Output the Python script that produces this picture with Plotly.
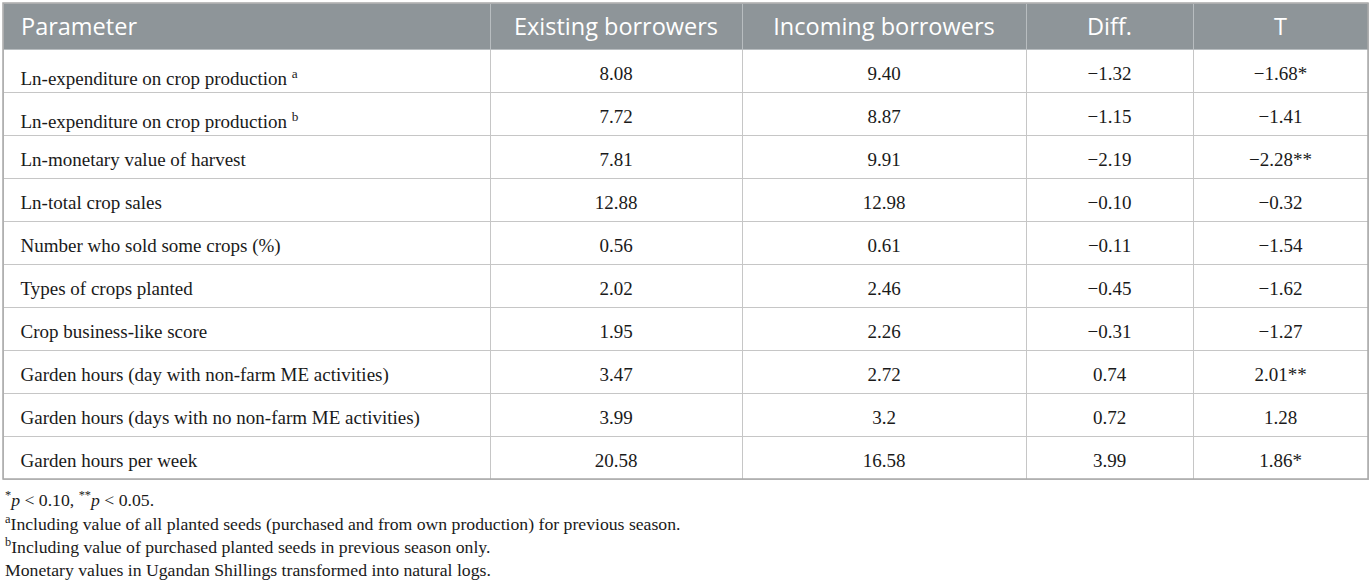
import plotly.graph_objects as go

# table content
parameters = [
    'Ln-expenditure on crop production <sup>a</sup>',
    'Ln-expenditure on crop production <sup>b</sup>',
    'Ln-monetary value of harvest',
    'Ln-total crop sales',
    'Number who sold some crops (%)',
    'Types of crops planted',
    'Crop business-like score',
    'Garden hours (day with non-farm ME activities)',
    'Garden hours (days with no non-farm ME activities)',
    'Garden hours per week',
]
existing = ['8.08', '7.72', '7.81', '12.88', '0.56', '2.02', '1.95', '3.47', '3.99', '20.58']
incoming = ['9.40', '8.87', '9.91', '12.98', '0.61', '2.46', '2.26', '2.72', '3.2', '16.58']
diff = ['\u22121.32', '\u22121.15', '\u22122.19', '\u22120.10', '\u22120.11',
        '\u22120.45', '\u22120.31', '0.74', '0.72', '3.99']
t_stat = ['\u22121.68*', '\u22121.41', '\u22122.28**', '\u22120.32', '\u22121.54',
          '\u22121.62', '\u22121.27', '2.01**', '1.28', '1.86*']
headers = ['Parameter', 'Existing borrowers', 'Incoming borrowers', 'Diff.', 'T']

footnotes = [
    '<sup>*</sup><i>p</i> < 0.10, <sup>**</sup><i>p</i> < 0.05.',
    '<sup>a</sup>Including value of all planted seeds (purchased and from own production) for previous season.',
    '<sup>b</sup>Including value of purchased planted seeds in previous season only.',
    'Monetary values in Ugandan Shillings transformed into natural logs.',
]

W, H = 1372, 584
TOP, BOTTOM, LEFT, RIGHT = 3, 479, 3, 1368
HEAD_H, ROW_H = 46, 43
COL_W = [487, 252, 284, 167, 175]
ALIGN = ['left', 'center', 'center', 'center', 'center']
HEAD_FONT = dict(family='Open Sans', size=23.5, color='white')
CELL_FONT = dict(family='Liberation Serif', size=19, color='#1a1a1a')

n_rows = len(parameters)
blank_cols = [[''] * n_rows for _ in headers]

fig = go.Figure()

# grid: fills and lines only
fig.add_trace(
    go.Table(
        columnwidth=COL_W,
        domain=dict(x=[LEFT / W, RIGHT / W], y=[0, 1 - TOP / H]),
        header=dict(
            values=[''] * len(headers),
            fill_color='#8e9599',
            line=dict(color='#b8bdc0', width=1),
            height=HEAD_H,
        ),
        cells=dict(
            values=blank_cols,
            fill_color='white',
            line=dict(color='#c6c6c6', width=1),
            height=ROW_H,
        ),
    )
)

# text layer, nudged down so labels sit mid-row like the reference
fig.add_trace(
    go.Table(
        columnwidth=COL_W,
        domain=dict(x=[LEFT / W, RIGHT / W], y=[0, 1 - (TOP + 6) / H]),
        header=dict(
            values=['\u00a0\u2009' + headers[0]] + headers[1:],
            align=ALIGN,
            fill_color='rgba(0,0,0,0)',
            line=dict(width=0, color='rgba(0,0,0,0)'),
            font=HEAD_FONT,
            height=HEAD_H + 2.5,
        ),
        cells=dict(
            values=[['\u00a0\u00a0' + p for p in parameters], existing, incoming, diff, t_stat],
            align=ALIGN,
            fill_color='rgba(0,0,0,0)',
            line=dict(width=0, color='rgba(0,0,0,0)'),
            font=CELL_FONT,
            height=ROW_H,
        ),
    )
)

# slightly darker outer frame
fig.add_shape(
    type='rect', xref='paper', yref='paper', layer='above',
    x0=LEFT / W, x1=RIGHT / W, y0=1 - BOTTOM / H, y1=1 - TOP / H,
    line=dict(color='#a9a9a9', width=1.5),
)

for i, txt in enumerate(footnotes):
    ypix = 499 + 23.7 * i
    fig.add_annotation(
        x=LEFT / W, y=1 - ypix / H,
        xref='paper', yref='paper',
        xanchor='left', yanchor='middle',
        text=txt, showarrow=False,
        font=dict(family='Liberation Serif', size=17.7, color='#1a1a1a'),
    )

fig.update_layout(
    width=W,
    height=H,
    margin=dict(l=0, r=0, t=0, b=0),
    paper_bgcolor='white',
    plot_bgcolor='white',
)

fig.write_html(
    'out.html',
    config={'displayModeBar': False},
    post_script="document.body.style.margin='0';",
)
